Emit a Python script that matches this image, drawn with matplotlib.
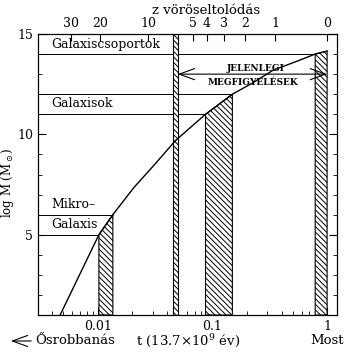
import matplotlib
matplotlib.use("Agg")
import matplotlib.pyplot as plt
import numpy as np
from matplotlib.ticker import MultipleLocator, NullFormatter, NullLocator

# mass-growth curve: t (units of 13.7 Gyr) vs log M
t_curve = np.array([0.00468, 0.0102, 0.0135, 0.0206, 0.0307, 0.0477, 0.0644,
                    0.0869, 0.149, 0.222, 0.339, 0.55, 0.787, 1.0])
logm_curve = np.array([1.0, 5.0, 6.0, 7.35, 8.45, 9.7, 10.35,
                       11.0, 12.0, 12.55, 13.2, 13.65, 14.0, 14.15])

# hatched windows under the curve (t start, t end)
windows = [(0.0102, 0.0135), (0.0869, 0.149), (0.787, 1.0)]
# thin full-height bar
thin_bar = (0.045, 0.0496)

# horizontal level lines and where they stop
levels = [14, 12, 11, 6, 5]
level_ends = [0.787, 0.149, 0.0869, 0.0135, 0.0102]

class_names = ["Galaxiscsoportok", "Galaxisok", "Mikro–", "Galaxis"]
class_y = [14.5, 11.55, 6.5, 5.5]

z_ticks = [30, 20, 10, 5, 4, 3, 2, 1, 0]

plt.rcParams["font.family"] = ["DejaVu Serif"]
plt.rcParams["mathtext.fontset"] = "dejavuserif"
plt.rcParams["hatch.linewidth"] = 0.7

fig = plt.figure(figsize=(3.56, 3.52), dpi=100)
ax = fig.add_axes([38 / 356, 1 - 315 / 352, 299 / 356, 281 / 352])
ax.set_xscale("log")
ax.set_xlim(0.003, 1.22)
ax.set_ylim(1, 15)

hatch = "\\\\\\\\\\\\"
for a, b in windows:
    m = (t_curve >= a) & (t_curve <= b)
    ax.fill_between(t_curve[m], 1, logm_curve[m], facecolor="white",
                    edgecolor="black", hatch=hatch, lw=0.8, zorder=2)
ax.fill_between(list(thin_bar), 1, 15, facecolor="white", edgecolor="black",
                hatch=hatch, lw=0.8, zorder=2)

ax.plot(t_curve, logm_curve, color="black", lw=1.0, zorder=3)

ax.hlines(levels, 0.003, level_ends, color="black", lw=0.7, zorder=1)

for name, y in zip(class_names, class_y):
    ax.text(0.0039, y, name, fontsize=9, va="center", ha="left")

ax.annotate("", xy=(thin_bar[1], 13), xytext=(1.0, 13),
            arrowprops=dict(arrowstyle="<->,head_length=1.1,head_width=0.4",
                            lw=0.8, color="black", shrinkA=0, shrinkB=0,
                            mutation_scale=10))
ax.text(0.237, 13.3, "JELENLEGI", fontsize=6.5, ha="center", va="center",
        fontweight="bold")
ax.text(0.227, 12.6, "MEGFIGYELÉSEK", fontsize=6.5, ha="center", va="center",
        fontweight="bold")

ax.set_xticks([0.01, 0.1, 1], ["0.01", "0.1", "1"])
ax.xaxis.set_minor_formatter(NullFormatter())
ax.set_yticks([5, 10, 15])
ax.yaxis.set_minor_locator(MultipleLocator(1))
ax.tick_params(which="both", direction="in", top=False, right=True,
               labelsize=9)
ax.tick_params(which="major", length=6)
ax.tick_params(which="minor", length=3)
ax.set_ylabel(r"log M (M$_\odot$)", fontsize=8.5)
ax.yaxis.set_label_coords(-0.072, 0.47)

ax2 = ax.twiny()
ax2.set_xscale("log")
ax2.set_xlim(ax.get_xlim())
ax2.set_xticks([(1 + z) ** -1.5 for z in z_ticks], [str(z) for z in z_ticks])
ax2.xaxis.set_minor_locator(NullLocator())
ax2.tick_params(direction="in", length=5, labelsize=9, pad=3)

fig.text(206 / 356, 1 - 10 / 352, "z vöröseltolódás", fontsize=9.5,
         ha="center", va="center")
fig.text(75 / 356, 1 - 341 / 352, "Ősrobbanás", fontsize=9.5,
         ha="center", va="center")
fig.text(188 / 356, 1 - 341 / 352, r"t (13.7×10$^9$ év)", fontsize=9.5,
         ha="center", va="center")
fig.text(327 / 356, 1 - 341 / 352, "Most", fontsize=9.5,
         ha="center", va="center")
fig.add_artist(matplotlib.patches.FancyArrowPatch(
    (34 / 356, 1 - 341 / 352), (8 / 356, 1 - 341 / 352),
    transform=fig.transFigure, arrowstyle="->,head_length=1.1,head_width=0.4",
    mutation_scale=10, lw=0.8, color="black"))

fig.savefig("out.png", dpi=100)
